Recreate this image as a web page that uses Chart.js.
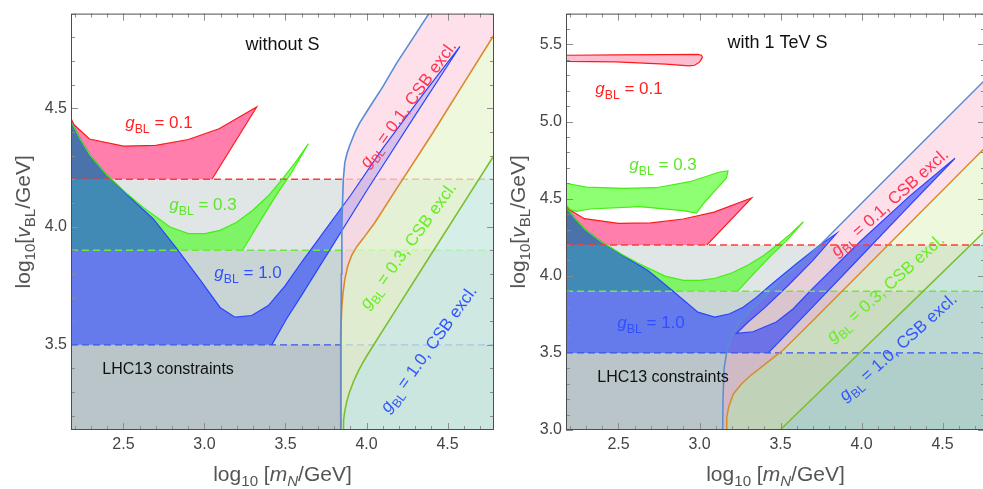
<!DOCTYPE html>
<html>
<head>
<meta charset="utf-8">
<script src="https://cdn.jsdelivr.net/npm/chart.js@4.4.1/dist/chart.umd.min.js"></script>
<style>
  html, body { margin: 0; padding: 0; background: #fff; overflow: hidden; }
  #wrap { position: relative; width: 983px; height: 489px; overflow: hidden; }
  canvas { position: absolute; top: 0; }
  #left { left: 0; }
  #right { left: 490px; }
</style>
</head>
<body>
<div id="wrap">
  <canvas id="left" width="500" height="489"></canvas>
  <canvas id="right" width="495" height="489"></canvas>
</div>
<script>
// axes: log10(mN/GeV) horizontally, log10(vBL/GeV) vertically
const xTicks = [2.5, 3.0, 3.5, 4.0, 4.5];
const yTicksL = [3.5, 4.0, 4.5];
const yTicksR = [3.0, 3.5, 4.0, 4.5, 5.0, 5.5];
const xRangeL = [2.176, 4.787];
const yRangeL = [3.14, 4.9];
const xRangeR = [2.176, 4.762];
const yRangeR = [3.0, 5.7];

// LHC13 lower bounds on vBL for g_BL = 0.1, 0.3, 1.0
const lhcLimits = [4.2, 3.9, 3.5];
const lhcShades = ['#dfe6e5', '#c9d5d5', '#b9c5c8'];

// allowed regions (same in both panels unless noted)
const redRegion = [
  [2.176, 4.2], [2.176, 4.457], [2.195, 4.43], [2.29, 4.37], [2.5, 4.34], [2.7, 4.343],
  [2.9, 4.368], [3.09, 4.413], [3.322, 4.505], [3.046, 4.2]
];
const greenRegion = [
  [2.176, 3.9], [2.176, 4.445], [2.232, 4.371], [2.293, 4.302], [2.396, 4.219], [2.52, 4.14],
  [2.622, 4.081], [2.787, 3.998], [2.9, 3.97], [3.003, 3.97], [3.096, 3.984], [3.199, 4.018],
  [3.3, 4.07], [3.394, 4.13], [3.48, 4.2], [3.56, 4.27], [3.641, 4.35],
  [3.53, 4.22], [3.45, 4.14], [3.35, 4.03], [3.235, 3.9]
];
const blueRegionL = [
  [2.176, 3.5], [2.176, 4.447], [2.232, 4.371], [2.293, 4.302], [2.396, 4.219], [2.52, 4.136],
  [2.684, 4.032], [2.828, 3.908], [2.972, 3.776], [3.096, 3.658], [3.188, 3.617], [3.291, 3.624],
  [3.394, 3.666], [3.497, 3.749], [3.6, 3.85], [3.75, 3.99], [3.9, 4.13], [4.1, 4.33],
  [4.35, 4.56], [4.577, 4.761],
  [4.3, 4.47], [4.0, 4.15], [3.8, 3.93], [3.6, 3.71], [3.507, 3.61], [3.415, 3.5]
];
const blueRegionR = [
  [2.176, 3.5], [2.176, 4.447], [2.232, 4.371], [2.293, 4.302], [2.396, 4.219], [2.52, 4.136],
  [2.684, 4.032], [2.828, 3.908], [2.99, 3.764], [3.094, 3.732], [3.186, 3.754], [3.269, 3.796],
  [3.35, 3.86], [3.45, 3.95], [3.6, 4.08], [3.744, 4.2], [3.845, 4.274],
  [3.7, 4.1], [3.55, 3.94], [3.4, 3.79], [3.3, 3.7], [3.228, 3.626],
  [3.33, 3.637], [3.474, 3.70], [3.577, 3.785], [3.7, 3.92], [4.0, 4.23], [4.3, 4.52], [4.577, 4.762],
  [4.3, 4.46], [4.0, 4.13], [3.7, 3.8], [3.425, 3.5]
];
const redSliverR = [
  [2.176, 5.43], [2.5, 5.432], [2.8, 5.434], [2.987, 5.436], [3.012, 5.43], [3.018, 5.416],
  [3.0, 5.385], [2.97, 5.365], [2.935, 5.361], [2.79, 5.372], [2.482, 5.387], [2.176, 5.39]
];
const greenBandR = [
  [2.176, 4.6], [2.3, 4.575], [2.528, 4.567], [2.734, 4.571], [2.94, 4.61], [3.125, 4.673],
  [3.176, 4.68], [3.166, 4.635], [3.022, 4.465], [2.981, 4.406], [2.898, 4.422], [2.631, 4.448],
  [2.323, 4.433], [2.24, 4.418], [2.2, 4.43], [2.176, 4.46]
];

// CSB exclusion boundaries
const csbBlueL = [
  [3.841, 3.14], [3.842, 3.5], [3.845, 3.8], [3.848, 4.0], [3.852, 4.1], [3.857, 4.2], [3.866, 4.27],
  [3.88, 4.31], [3.898, 4.346], [3.93, 4.4], [3.96, 4.44], [4.0, 4.484], [4.1, 4.59], [4.186, 4.691],
  [4.3, 4.81], [4.385, 4.9]
];
const csbOrangeL = [
  [3.838, 3.14], [3.839, 3.4], [3.842, 3.55], [3.847, 3.65], [3.855, 3.72], [3.867, 3.78], [3.885, 3.835],
  [3.91, 3.88], [3.94, 3.915], [3.98, 3.95], [4.05, 4.015], [4.2, 4.175], [4.4, 4.386], [4.6, 4.605],
  [4.787, 4.81]
];
const csbGreenL = [
  [3.855, 3.14], [3.858, 3.18], [3.866, 3.22], [3.878, 3.26], [3.895, 3.3], [3.92, 3.345], [3.95, 3.39],
  [3.99, 3.44], [4.04, 3.495], [4.1, 3.56], [4.2, 3.668], [4.4, 3.884], [4.6, 4.099], [4.787, 4.30]
];
const csbBlueR = [
  [3.143, 3.0], [3.145, 3.2], [3.152, 3.4], [3.17, 3.52], [3.2, 3.61], [3.25, 3.7], [3.32, 3.78],
  [3.42, 3.88], [3.55, 4.01], [3.744, 4.2], [4.0, 4.47], [4.4, 4.89], [4.762, 5.27]
];
const csbOrangeR = [
  [3.164, 3.0], [3.168, 3.08], [3.18, 3.15], [3.209, 3.234], [3.26, 3.3], [3.312, 3.35], [3.415, 3.435],
  [3.518, 3.52], [3.7, 3.71], [4.164, 4.2], [4.762, 4.83]
];
const csbGreenR = [
  [3.497, 3.0], [4.0, 3.512], [4.4, 3.92], [4.762, 4.29]
];

const redFill = 'rgba(255,20,102,0.55)';
const greenFill = 'rgba(50,255,0,0.55)';
const blueFill = 'rgba(10,40,255,0.52)';
const FONT = '"Liberation Sans", Arial, sans-serif';

const P = arr => arr.map(([x, y]) => ({x, y}));
const rev = arr => arr.slice().reverse();
const rect = (x0, y0, x1, y1) => [[x0, y0], [x1, y0], [x1, y1], [x0, y1]];

function fillSet(points, color, order) {
  return { data: P(points), fill: 'shape', backgroundColor: color, borderColor: 'rgba(0,0,0,0)',
    borderWidth: 0, pointRadius: 0, order: order, clip: 0 };
}
function lineSet(points, color, order, width, dash) {
  return { data: P(points), fill: false, borderColor: color, borderWidth: width,
    borderDash: dash || [], pointRadius: 0, order: order, clip: 0 };
}

function leftDatasets() {
  const [x0, x1] = xRangeL, [y0, y1] = yRangeL;
  const sets = [];
  lhcLimits.forEach((lim, i) => sets.push(fillSet(rect(x0, y0, x1, lim), lhcShades[i], 100 - i)));
  sets.push(fillSet(redRegion, redFill, 90));
  sets.push(fillSet(greenRegion, greenFill, 89));
  sets.push(fillSet(blueRegionL, blueFill, 88));
  ['#ff3b3b', '#6ee83c', '#3a55f0'].forEach((c, i) =>
    sets.push(lineSet([[x0, lhcLimits[i]], [x1, lhcLimits[i]]], c, 70, 1.4, [7, 4])));
  sets.push(fillSet(csbBlueL.concat([[x1, y1]], rev(csbOrangeL)), 'rgba(252,212,226,0.72)', 60));
  sets.push(fillSet(csbOrangeL.concat(rev(csbGreenL)), 'rgba(231,245,206,0.72)', 60));
  sets.push(fillSet(csbGreenL.concat([[x1, y0]]), 'rgba(209,241,231,0.72)', 60));
  sets.push(lineSet(redRegion.slice(1), '#ff1a1a', 55, 1.2));
  sets.push(lineSet(greenRegion.slice(1), '#44ee11', 55, 1.2));
  sets.push(lineSet(blueRegionL.slice(1), '#2a45ff', 55, 1.2));
  sets.push(lineSet(csbBlueL, '#5a8cd6', 50, 1.6));
  sets.push(lineSet(csbOrangeL, '#d98b2b', 50, 1.6));
  sets.push(lineSet(csbGreenL, '#79bf2f', 50, 1.6));
  return sets;
}

function rightDatasets() {
  const [x0, x1] = xRangeR, [y0] = yRangeR;
  const sets = [];
  lhcLimits.forEach((lim, i) => sets.push(fillSet(rect(x0, y0, x1, lim), lhcShades[i], 100 - i)));
  sets.push(fillSet(csbBlueR.concat(rev(csbOrangeR)), 'rgba(249,166,195,0.35)', 95));
  sets.push(fillSet(csbOrangeR.concat(rev(csbGreenR)), 'rgba(206,235,155,0.35)', 95));
  sets.push(fillSet(csbGreenR.concat([[x1, y0]]), 'rgba(161,226,206,0.35)', 95));
  sets.push(fillSet(redSliverR, 'rgba(255,60,120,0.35)', 91));
  sets.push(fillSet(greenBandR, greenFill, 91));
  sets.push(fillSet(redRegion, redFill, 90));
  sets.push(fillSet(greenRegion, greenFill, 89));
  sets.push(fillSet(blueRegionR, blueFill, 88));
  sets.push(lineSet(redSliverR.concat([redSliverR[0]]), '#ff1a1a', 80, 1.2));
  sets.push(lineSet(greenBandR.concat([greenBandR[0]]), '#44ee11', 80, 1.2));
  sets.push(lineSet(redRegion.slice(1), '#ff1a1a', 80, 1.2));
  sets.push(lineSet(greenRegion.slice(1), '#44ee11', 80, 1.2));
  sets.push(lineSet(blueRegionR.slice(1), '#2a45ff', 80, 1.2));
  ['#ff3b3b', '#6ee83c', '#3a55f0'].forEach((c, i) =>
    sets.push(lineSet([[x0, lhcLimits[i]], [x1, lhcLimits[i]]], c, 70, 1.4, [7, 4])));
  sets.push(lineSet(csbBlueR, '#5a8cd6', 50, 1.5));
  sets.push(lineSet(csbOrangeR, '#d98b2b', 50, 1.5));
  sets.push(lineSet(csbGreenR, '#79bf2f', 50, 1.5));
  return sets;
}

// text with italic / subscript pieces, centred on (cx, cy)
function drawRich(ctx, parts, cx, cy, angle, color, size) {
  const fontOf = p => (p.i ? 'italic ' : '') + (p.s ? size * 0.72 : size) + 'px ' + FONT;
  ctx.save();
  ctx.translate(cx, cy);
  ctx.rotate(angle * Math.PI / 180);
  ctx.fillStyle = color;
  ctx.textBaseline = 'alphabetic';
  ctx.textAlign = 'left';
  let w = 0;
  parts.forEach(p => { ctx.font = fontOf(p); w += ctx.measureText(p.t).width; });
  let x = -w / 2;
  parts.forEach(p => {
    ctx.font = fontOf(p);
    ctx.fillText(p.t, x, size * 0.36 + (p.s ? size * 0.28 : 0));
    x += ctx.measureText(p.t).width;
  });
  ctx.restore();
}

const g = rest => [{t: 'g', i: 1}, {t: 'BL', s: 1}, {t: rest}];
const yTitle = [{t: 'log'}, {t: '10', s: 1}, {t: '['}, {t: 'v', i: 1}, {t: 'BL', s: 1}, {t: '/GeV]'}];
const xTitle = [{t: 'log'}, {t: '10', s: 1}, {t: ' ['}, {t: 'm', i: 1}, {t: 'N', s: 1, i: 1}, {t: '/GeV]'}];

const labelsL = [
  {parts: [{t: 'without S'}], x: 3.481, y: 4.775, color: '#111', size: 18},
  {parts: g(' = 0.1'), x: 2.719, y: 4.443, color: '#ff2222', size: 17},
  {parts: g(' = 0.3'), x: 2.991, y: 4.094, color: '#5ee62a', size: 17},
  {parts: g(' = 1.0'), x: 3.269, y: 3.808, color: '#3050ff', size: 17},
  {parts: [{t: 'LHC13 constraints'}], x: 2.775, y: 3.401, color: '#111', size: 16},
  {parts: g(' = 0.1, CSB excl.'), x: 4.253, y: 4.518, color: '#ff3355', size: 17, angle: -54},
  {parts: g(' = 0.3, CSB excl.'), x: 4.253, y: 3.921, color: '#66ee22', size: 17, angle: -54},
  {parts: g(' = 1.0, CSB excl.'), x: 4.38, y: 3.484, color: '#3355ff', size: 17, angle: -54}
];
const labelsR = [
  {parts: [{t: 'with 1 TeV S'}], x: 3.482, y: 5.516, color: '#111', size: 18},
  {parts: g(' = 0.1'), x: 2.565, y: 5.217, color: '#ff2222', size: 17},
  {parts: g(' = 0.3'), x: 2.775, y: 4.726, color: '#5ee62a', size: 17},
  {parts: g(' = 1.0'), x: 2.701, y: 3.701, color: '#3050ff', size: 17},
  {parts: [{t: 'LHC13 constraints'}], x: 2.775, y: 3.35, color: '#111', size: 16},
  {parts: g(' = 0.1, CSB excl.'), x: 4.17, y: 4.478, color: '#ff3355', size: 17, angle: -42},
  {parts: g(' = 0.3, CSB excl.'), x: 4.145, y: 3.924, color: '#66ee22', size: 17, angle: -42},
  {parts: g(' = 1.0, CSB excl.'), x: 4.222, y: 3.541, color: '#3355ff', size: 17, angle: -42}
];

function minorValues(min, max) {
  const out = [];
  for (let k = Math.ceil(min * 10 - 1e-6); k <= Math.floor(max * 10 + 1e-6); k++) out.push(k / 10);
  return out;
}

const textPlugin = {
  id: 'texts',
  afterDatasetsDraw(chart, args, opts) {
    const {ctx, scales: {x, y}} = chart;
    opts.items.forEach(t => drawRich(ctx, t.parts, x.getPixelForValue(t.x), y.getPixelForValue(t.y),
      t.angle || 0, t.color, t.size));
  }
};

const framePlugin = {
  id: 'frame',
  afterDraw(chart) {
    const {ctx, chartArea: a, scales: {x, y}} = chart;
    ctx.save();
    ctx.lineWidth = 1;
    ctx.strokeStyle = '#8c8c8c';
    ctx.beginPath();
    minorValues(x.min, x.max).forEach(v => {
      const len = Math.abs(v * 2 - Math.round(v * 2)) < 1e-6 ? 7 : 4;
      const px = Math.round(x.getPixelForValue(v)) + 0.5;
      ctx.moveTo(px, a.bottom); ctx.lineTo(px, a.bottom - len);
      ctx.moveTo(px, a.top); ctx.lineTo(px, a.top + len);
    });
    minorValues(y.min, y.max).forEach(v => {
      const len = Math.abs(v * 2 - Math.round(v * 2)) < 1e-6 ? 7 : 4;
      const py = Math.round(y.getPixelForValue(v)) + 0.5;
      ctx.moveTo(a.left, py); ctx.lineTo(a.left + len, py);
      ctx.moveTo(a.right, py); ctx.lineTo(a.right - len, py);
    });
    ctx.stroke();
    ctx.strokeStyle = '#4d4d4d';
    ctx.strokeRect(a.left + 0.5, a.top + 0.5, a.right - a.left - 1, a.bottom - a.top - 1);
    ctx.restore();
    drawRich(ctx, yTitle, a.left - 49, (a.top + a.bottom) / 2, -90, '#555', 21);
    drawRich(ctx, xTitle, (a.left + a.right) / 2, a.bottom + 43, 0, '#555', 21);
  }
};

function makeChart(id, datasets, xr, yr, yTicks, axisWidth, padRight, labels) {
  return new Chart(document.getElementById(id), {
    type: 'line',
    data: { datasets: datasets },
    options: {
      responsive: false,
      animation: false,
      events: [],
      layout: { padding: { top: 6, right: padRight, left: 0, bottom: 0 } },
      plugins: { legend: { display: false }, tooltip: { enabled: false }, texts: { items: labels } },
      elements: { point: { radius: 0 }, line: { tension: 0 } },
      scales: {
        x: {
          type: 'linear', min: xr[0], max: xr[1],
          afterFit: s => { s.height = 59; },
          afterBuildTicks: s => { s.ticks = xTicks.map(v => ({value: v})); },
          grid: { display: false, drawTicks: false }, border: { display: false },
          ticks: { autoSkip: false, maxRotation: 0, padding: 5, color: '#444',
            font: { family: FONT, size: 16 }, callback: v => v.toFixed(1) }
        },
        y: {
          type: 'linear', min: yr[0], max: yr[1],
          afterFit: s => { s.width = axisWidth; },
          afterBuildTicks: s => { s.ticks = yTicks.map(v => ({value: v})); },
          grid: { display: false, drawTicks: false }, border: { display: false },
          ticks: { autoSkip: false, padding: 4, color: '#444',
            font: { family: FONT, size: 16 }, callback: v => v.toFixed(1) }
        }
      }
    },
    plugins: [textPlugin, framePlugin]
  });
}

makeChart('left', leftDatasets(), xRangeL, yRangeL, yTicksL, 71, 6, labelsL);
makeChart('right', rightDatasets(), xRangeR, yRangeR, yTicksR, 76, 0, labelsR);
</script>
</body>
</html>
